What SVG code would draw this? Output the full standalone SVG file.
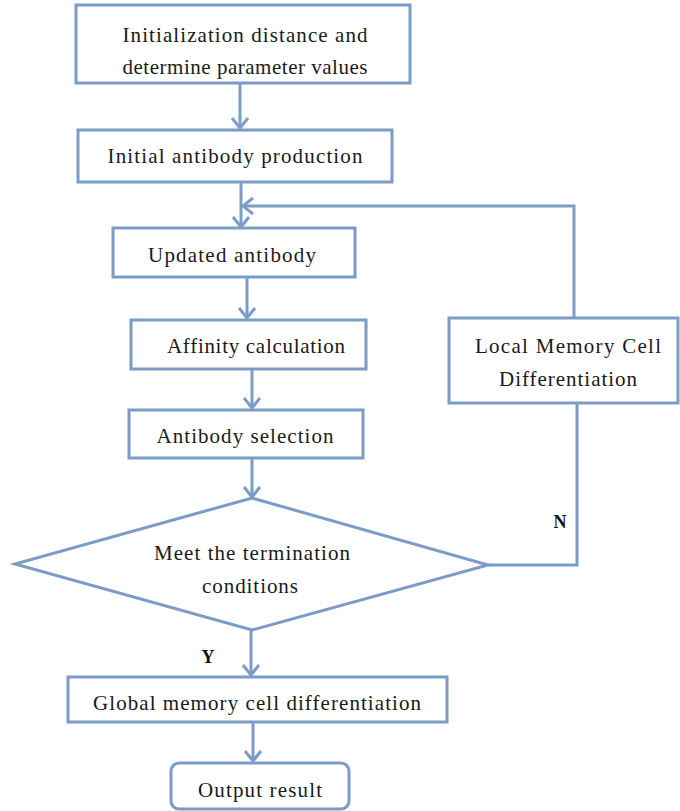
<svg xmlns="http://www.w3.org/2000/svg" width="680" height="811" viewBox="0 0 680 811">
<style>
.box{fill:#fff;stroke:#7b9cc6;stroke-width:3}
.ln{fill:none;stroke:#7b9cc6;stroke-width:3}
.t{font-family:'Liberation Serif','DejaVu Serif','Times New Roman',serif;font-size:21px;fill:#1a1a1a;text-anchor:middle}
.lab{font-family:'Liberation Serif','DejaVu Serif','Times New Roman',serif;font-size:18px;font-weight:bold;fill:#111;text-anchor:middle}
</style>
<defs>
<marker id="ah" viewBox="-12 -10 14 20" markerWidth="14" markerHeight="20" refX="0" refY="0" orient="auto" markerUnits="userSpaceOnUse">
<path d="M-10,-8 L0,0 L-10,8" fill="none" stroke="#7b9cc6" stroke-width="3"/>
</marker>
</defs>
<rect width="680" height="811" fill="#fff"/>
<g id="connectors">
<line class="ln" x1="240" y1="83" x2="240" y2="128" marker-end="url(#ah)"/>
<line class="ln" x1="241" y1="182" x2="241" y2="227" marker-end="url(#ah)"/>
<polyline class="ln" points="574,318 574,206 243,206" marker-end="url(#ah)"/>
<line class="ln" x1="247" y1="277" x2="247" y2="318" marker-end="url(#ah)"/>
<line class="ln" x1="252" y1="369" x2="252" y2="408" marker-end="url(#ah)"/>
<line class="ln" x1="252" y1="458" x2="252" y2="497" marker-end="url(#ah)"/>
<line class="ln" x1="251" y1="630" x2="251" y2="675" marker-end="url(#ah)"/>
<line class="ln" x1="253" y1="722" x2="253" y2="761" marker-end="url(#ah)"/>
<polyline class="ln" points="488,565 577,565 577,403"/>
<text class="lab" x="560" y="528">N</text>
<text class="lab" x="208" y="663">Y</text>
</g>
<g id="init">
<rect class="box" x="76" y="5" width="334" height="78"/>
<text class="t" x="245" y="42" textLength="245" lengthAdjust="spacing">Initialization distance and</text>
<text class="t" x="245" y="74" textLength="245" lengthAdjust="spacing">determine parameter values</text>
</g>
<g id="initial">
<rect class="box" x="78" y="130" width="314" height="52"/>
<text class="t" x="235" y="163" textLength="255" lengthAdjust="spacing">Initial antibody production</text>
</g>
<g id="updated">
<rect class="box" x="113" y="228" width="242" height="49"/>
<text class="t" x="232" y="262" textLength="168" lengthAdjust="spacing">Updated antibody</text>
</g>
<g id="affinity">
<rect class="box" x="131" y="320" width="235" height="49"/>
<text class="t" x="256" y="353" textLength="178" lengthAdjust="spacing">Affinity calculation</text>
</g>
<g id="selection">
<rect class="box" x="129" y="410" width="234" height="48"/>
<text class="t" x="245" y="443" textLength="177" lengthAdjust="spacing">Antibody selection</text>
</g>
<g id="local">
<rect class="box" x="449" y="318" width="229" height="85"/>
<text class="t" x="568" y="353" textLength="186" lengthAdjust="spacing">Local Memory Cell</text>
<text class="t" x="568" y="386" textLength="138" lengthAdjust="spacing">Differentiation</text>
</g>
<g id="decision">
<polygon class="box" points="252,498 488,565 252,630 15,564"/>
<text class="t" x="252" y="560" textLength="196" lengthAdjust="spacing">Meet the termination</text>
<text class="t" x="250" y="593" textLength="96" lengthAdjust="spacing">conditions</text>
</g>
<g id="global">
<rect class="box" x="68" y="677" width="379" height="45"/>
<text class="t" x="257" y="710" textLength="328" lengthAdjust="spacing">Global memory cell differentiation</text>
</g>
<g id="output">
<rect class="box" x="171" y="763" width="178" height="46" rx="8"/>
<text class="t" x="260" y="797" textLength="124" lengthAdjust="spacing">Output result</text>
</g>
</svg>
